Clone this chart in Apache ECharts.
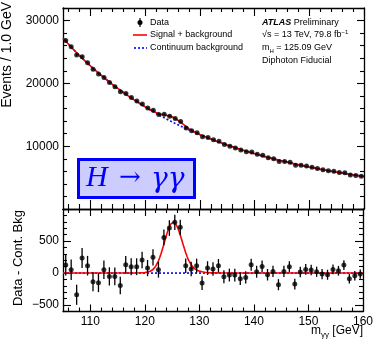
<!DOCTYPE html>
<html>
<head>
<meta charset="utf-8">
<script src="https://cdn.jsdelivr.net/npm/echarts@6/dist/echarts.min.js"></script>
<style>
  html, body { margin: 0; padding: 0; background: #fff; }
  #chart { width: 376px; height: 347px; }
</style>
</head>
<body>
<div id="chart"></div>
<script>
const xMin = 105
const xMax = 160

// 1 GeV bins
const binCenters = [
  105.5, 106.5, 107.5, 108.5, 109.5, 110.5, 111.5, 112.5, 113.5, 114.5,
  115.5, 116.5, 117.5, 118.5, 119.5, 120.5, 121.5, 122.5, 123.5, 124.5,
  125.5, 126.5, 127.5, 128.5, 129.5, 130.5, 131.5, 132.5, 133.5, 134.5,
  135.5, 136.5, 137.5, 138.5, 139.5, 140.5, 141.5, 142.5, 143.5, 144.5,
  145.5, 146.5, 147.5, 148.5, 149.5, 150.5, 151.5, 152.5, 153.5, 154.5,
  155.5, 156.5, 157.5, 158.5, 159.5
]
const dataEvents = [
  26823, 25817, 24531, 24244, 23300, 22258, 21481, 20954, 20148, 19474,
  18685, 18386, 17756, 17181, 16732, 16075, 15730, 15045, 15076, 14767,
  14417, 13917, 12911, 12468, 12142, 11508, 11392, 11040, 10767, 10282,
  10006, 9715, 9376, 9126, 9063, 8702, 8542, 8177, 8003, 7576,
  7573, 7442, 6974, 6972, 6829, 6641, 6444, 6241, 6071, 5999,
  5828, 5772, 5417, 5329, 5224
]
const dataErrors = [
  164, 161, 157, 156, 153, 149, 147, 145, 142, 140,
  137, 136, 133, 131, 129, 127, 125, 123, 123, 122,
  120, 118, 114, 112, 110, 107, 107, 105, 104, 101,
  100, 99, 97, 96, 95, 93, 92, 90, 89, 87,
  87, 86, 84, 83, 83, 81, 80, 79, 78, 77,
  76, 76, 74, 73, 72
]
const dataMinusBkg = [
  125, 52, -339, 234, 115, -135, -151, 52, -52, -52,
  -193, 130, 99, 99, 203, 78, 245, 52, 557, 703,
  792, 714, 115, 63, 115, -156, 78, 63, 115, -57,
  -31, -31, -89, -68, 130, 21, 104, -26, 26, -182,
  26, 99, -172, 16, 57, 47, 21, -16, -26, 57,
  36, 125, -89, -42, -16
]

// continuum background fit
const bkgX = [
  105, 105.5, 106.5, 107.5, 108.5, 109.5, 110.5, 111.5, 112.5, 113.5, 114.5,
  115.5, 116.5, 117.5, 118.5, 119.5, 120.5, 121.5, 122.5, 123.5, 124.5,
  125.5, 126.5, 127.5, 128.5, 129.5, 130.5, 131.5, 132.5, 133.5, 134.5,
  135.5, 136.5, 137.5, 138.5, 139.5, 140.5, 141.5, 142.5, 143.5, 144.5,
  145.5, 146.5, 147.5, 148.5, 149.5, 150.5, 151.5, 152.5, 153.5, 154.5,
  155.5, 156.5, 157.5, 158.5, 159.5, 160
]
const bkgY = [
  27179, 26698, 25765, 24870, 24010, 23185, 22393, 21632, 20902, 20200, 19526,
  18878, 18256, 17657, 17082, 16529, 15997, 15485, 14993, 14519, 14064,
  13625, 13203, 12796, 12405, 12027, 11664, 11314, 10977, 10652, 10339,
  10037, 9746, 9465, 9194, 8933, 8681, 8438, 8203, 7977, 7758,
  7547, 7343, 7146, 6956, 6772, 6594, 6423, 6257, 6097, 5942,
  5792, 5647, 5506, 5371, 5240, 5175
]

// signal region of the fit
const peakX = [
  118, 119, 119.5, 120, 120.5, 121, 121.5, 122, 122.5, 122.75,
  123, 123.25, 123.5, 123.75, 124, 124.25, 124.5, 124.75, 125, 125.25,
  125.5, 125.75, 126, 126.25, 126.5, 126.75, 127, 127.25, 127.5, 127.75,
  128, 128.5, 129, 129.5, 130, 130.5, 131, 132, 133, 134
]
const peakSignal = [
  2, 4, 6, 9, 15, 28, 55, 108, 191, 246,
  309, 378, 452, 527, 600, 667, 722, 764, 789, 795,
  783, 754, 712, 657, 593, 525, 454, 384, 318, 258,
  205, 128, 78, 48, 30, 20, 13, 6, 3, 0
]
const peakSigBkg = [
  17372, 16810, 16535, 16272, 16012, 15769, 15540, 15347, 15184, 15121,
  15065, 15016, 14971, 14932, 14892, 14845, 14786, 14718, 14634, 14530,
  14408, 14274, 14126, 13966, 13796, 13626, 13454, 13282, 13114, 12956,
  12806, 12533, 12294, 12075, 11876, 11684, 11502, 11152, 10818, 10496
]

// ticks
const xMajorTicks = [110, 120, 130, 140, 150, 160]
const xMinorTicks = [106, 108, 112, 114, 116, 118, 122, 124, 126, 128, 132, 134, 136, 138,
  142, 144, 146, 148, 152, 154, 156, 158]
const yTopMajor = [0, 10000, 20000, 30000]
const yTopLabels = [10000, 20000, 30000]
const yTopMinor = [2000, 4000, 6000, 8000, 12000, 14000, 16000, 18000, 22000, 24000, 26000, 28000, 32000]
const yBotMajor = [-500, 0, 500]
const yBotMinor = [-600, -400, -300, -200, -100, 100, 200, 300, 400, 600, 700, 800, 900, 1000]

const FONT = '"Liberation Sans", Arial, Helvetica, sans-serif'

const zip = (xs, ys) => xs.map((x, i) => [x, ys[i]])

const topPoints = binCenters.map((x, i) => [x, dataEvents[i], dataErrors[i]])
const botPoints = binCenters.map((x, i) => [x, dataMinusBkg[i], dataErrors[i]])
const bkgLine = zip(bkgX, bkgY)
const sbLine = bkgLine.filter(p => p[0] < peakX[0])
  .concat(zip(peakX, peakSigBkg))
  .concat(bkgLine.filter(p => p[0] > peakX[peakX.length - 1]))
const sigLine = [[xMin, 0]].concat(zip(peakX, peakSignal), [[xMax, 0]])

function xAxis(grid, pos, ticks, len, labels) {
  return {
    type: 'value', gridIndex: grid, position: pos, min: xMin, max: xMax,
    axisLine: {show: ticks === xMajorTicks, onZero: false, lineStyle: {color: '#000', width: 1.3}},
    axisTick: {show: true, inside: true, length: len, customValues: ticks, lineStyle: {color: '#000', width: 1.1}},
    axisLabel: labels ? {show: true, customValues: xMajorTicks, margin: 4, color: '#000', fontSize: 12, fontFamily: FONT} : {show: false},
    splitLine: {show: false}
  }
}

function yAxis(grid, pos, min, max, ticks, len, labels, line) {
  return {
    type: 'value', gridIndex: grid, position: pos, min: min, max: max,
    axisLine: {show: line, onZero: false, lineStyle: {color: '#000', width: 1.3}},
    axisTick: {show: true, inside: true, length: len, customValues: ticks, lineStyle: {color: '#000', width: 1.1}},
    axisLabel: labels ? {
      show: true, customValues: labels, margin: 4, color: '#000', fontSize: 12, fontFamily: FONT,
      formatter: v => v < 0 ? '\u2212' + (-v) : String(v)
    } : {show: false},
    splitLine: {show: false}
  }
}

const errorBars = (params, api) => {
  const x = api.value(0), y = api.value(1), e = api.value(2)
  const lo = api.coord([x, y - e])
  const hi = api.coord([x, y + e])
  return {type: 'line', shape: {x1: lo[0], y1: lo[1], x2: hi[0], y2: hi[1]},
    style: {stroke: '#000', lineWidth: 1.3}}
}

const txt = (x, y, text, extra) => ({
  type: 'text', x: x, y: y,
  style: Object.assign({text: text, fill: '#000', font: '9px ' + FONT, textVerticalAlign: 'middle'}, extra || {})
})

const chart = echarts.init(document.getElementById('chart'))
chart.setOption({
  animation: false,
  backgroundColor: '#fff',
  grid: [
    {left: 63, width: 301, top: 8, height: 201},
    {left: 63, width: 301, top: 209, height: 102.5}
  ],
  xAxis: [
    xAxis(0, 'bottom', xMajorTicks, 9),
    xAxis(0, 'bottom', xMinorTicks, 5),
    xAxis(0, 'top', xMajorTicks, 8),
    xAxis(0, 'top', xMinorTicks, 4),
    xAxis(1, 'bottom', xMajorTicks, 7, true),
    xAxis(1, 'bottom', xMinorTicks, 4),
    xAxis(1, 'top', xMajorTicks, 7),
    xAxis(1, 'top', xMinorTicks, 4)
  ],
  yAxis: [
    yAxis(0, 'left', 0, 32000, yTopMajor, 7, yTopLabels, true),
    yAxis(0, 'right', 0, 32000, yTopMajor, 7, null, true),
    yAxis(1, 'left', -600, 1000, yBotMajor, 8, yBotMajor, true),
    yAxis(1, 'left', -600, 1000, yBotMinor, 4, null, false),
    yAxis(1, 'right', -600, 1000, yBotMajor, 8, null, true),
    yAxis(1, 'right', -600, 1000, yBotMinor, 4, null, false),
    yAxis(0, 'left', 0, 32000, yTopMinor, 4, null, false),
    yAxis(0, 'right', 0, 32000, yTopMinor, 4, null, false)
  ],
  series: [
    {type: 'line', xAxisIndex: 0, yAxisIndex: 0, data: bkgLine, showSymbol: false, silent: true,
      lineStyle: {color: '#0000ff', width: 1.6, type: [2, 2]}, z: 2},
    {type: 'line', xAxisIndex: 0, yAxisIndex: 0, data: sbLine, showSymbol: false, silent: true,
      lineStyle: {color: '#ff0000', width: 1.6}, z: 3},
    {type: 'custom', xAxisIndex: 0, yAxisIndex: 0, data: topPoints, renderItem: errorBars, z: 4},
    {type: 'scatter', xAxisIndex: 0, yAxisIndex: 0, data: topPoints, symbolSize: 5,
      itemStyle: {color: '#000'}, z: 5},

    {type: 'line', xAxisIndex: 4, yAxisIndex: 2, data: [[xMin, 0], [xMax, 0]], showSymbol: false, silent: true,
      lineStyle: {color: '#0000ff', width: 1.6, type: [2, 2]}, z: 2},
    {type: 'line', xAxisIndex: 4, yAxisIndex: 2, data: sigLine, showSymbol: false, silent: true,
      lineStyle: {color: '#ff0000', width: 1.6}, z: 3},
    {type: 'custom', xAxisIndex: 4, yAxisIndex: 2, data: botPoints, renderItem: errorBars, z: 4},
    {type: 'scatter', xAxisIndex: 4, yAxisIndex: 2, data: botPoints, symbolSize: 5,
      itemStyle: {color: '#000'}, z: 5}
  ],
  graphic: [
    // legend
    {type: 'line', shape: {x1: 140, y1: 18, x2: 140, y2: 27}, style: {stroke: '#000', lineWidth: 1.2}},
    {type: 'circle', shape: {cx: 140, cy: 22.5, r: 2.5}, style: {fill: '#000'}},
    txt(150, 22.5, 'Data'),
    {type: 'line', shape: {x1: 133, y1: 35, x2: 147, y2: 35}, style: {stroke: '#ff0000', lineWidth: 1.6}},
    txt(150, 35, 'Signal + background'),
    {type: 'line', shape: {x1: 134, y1: 48, x2: 147, y2: 48}, style: {stroke: '#0000ff', lineWidth: 1.6, lineDash: [2, 2]}},
    txt(150, 48, 'Continuum background'),

    // ATLAS label block
    txt(262, 22.5, '{b|ATLAS} Preliminary', {rich: {b: {font: 'italic bold 9px ' + FONT, fill: '#000'}}}),
    txt(262, 35, '\u221As = 13 TeV, 79.8 fb{sup|\u22121}', {lineHeight: 12, rich: {sup: {fontSize: 6, fontFamily: FONT, verticalAlign: 'top', lineHeight: 7, fill: '#000'}}}),
    txt(262, 48, 'm{sub|H} = 125.09 GeV', {lineHeight: 12, rich: {sub: {fontSize: 6, fontFamily: FONT, verticalAlign: 'bottom', lineHeight: 6, fill: '#000'}}}),
    txt(262, 61, 'Diphoton Fiducial'),

    // H -> gamma gamma box
    {type: 'rect', shape: {x: 78.5, y: 159.5, width: 116, height: 38}, style: {fill: '#ccccff', stroke: '#0000ff', lineWidth: 3}},
    {type: 'text', x: 86, y: 178, style: {text: 'H', fill: '#0000ff', font: 'italic 30px "Liberation Serif", "DejaVu Serif", serif', textVerticalAlign: 'middle'}},
    {type: 'text', x: 119, y: 178, style: {text: '\u2192', fill: '#0000ff', font: '26px "DejaVu Serif", serif', textVerticalAlign: 'middle'}},
    {type: 'text', x: 151, y: 180, style: {text: '\u03B3\u03B3', fill: '#0000ff', font: 'italic 28px "DejaVu Serif", serif', textVerticalAlign: 'middle'}},

    // axis titles
    {type: 'text', x: 7, y: 2, rotation: Math.PI / 2,
      style: {text: 'Events / 1.0 GeV', fill: '#000', font: '14px ' + FONT, textAlign: 'right', textVerticalAlign: 'middle'}},
    {type: 'text', x: 18, y: 210, rotation: Math.PI / 2,
      style: {text: 'Data - Cont. Bkg', fill: '#000', font: '13px ' + FONT, textAlign: 'right', textVerticalAlign: 'middle'}},
    {type: 'text', x: 363, y: 331,
      style: {text: 'm{sub|\u03B3\u03B3} [GeV]', fill: '#000', font: '12px ' + FONT, textAlign: 'right', textVerticalAlign: 'middle',
        lineHeight: 16, rich: {sub: {fontSize: 8, fontFamily: FONT, verticalAlign: 'bottom', lineHeight: 9, fill: '#000'}}}}
  ]
})
</script>
</body>
</html>
